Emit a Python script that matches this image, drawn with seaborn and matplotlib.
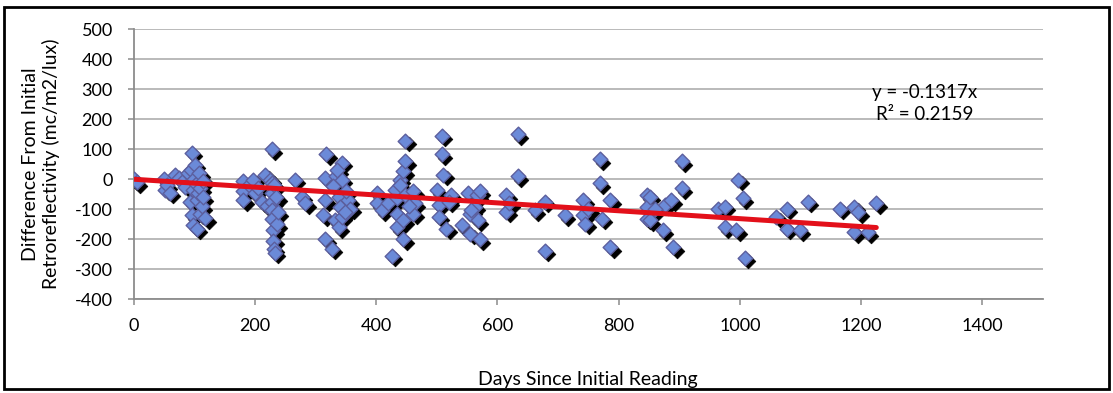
import matplotlib
matplotlib.use("Agg")
import matplotlib.pyplot as plt
from matplotlib.transforms import offset_copy
from matplotlib.patches import Rectangle
import seaborn as sns
import pandas as pd

# ---- data ----
days = [0, 5, 50, 52, 55, 60, 68, 75, 80, 85, 90, 93, 95, 96, 96, 98, 98, 100, 101, 103,
        104, 104, 106, 108, 109, 110, 112, 114, 115, 118,
        181, 181, 181, 190, 197, 200, 205, 211, 217, 220, 225, 228, 229, 229, 229, 229, 229,
        230, 230, 231, 232, 233, 235, 236, 238, 266, 277, 283,
        318, 316, 316, 313, 316, 327, 334, 343, 329, 338, 354, 340, 332, 338, 343, 357, 343,
        336, 350, 348,
        401, 401, 409, 420, 434, 431, 439, 445, 448, 448, 434, 434, 445, 445, 426, 448, 461,
        464, 461, 440, 455,
        508, 508, 511, 500, 503, 503, 516, 524, 541, 552, 555, 555, 568, 563, 520, 566, 571,
        557, 568, 571,
        634, 634, 615, 615, 620, 662, 678, 678,
        711, 742, 742, 745, 769, 769, 786, 772, 786, 750,
        846, 846, 846, 851, 851, 876, 887, 873, 890, 904, 904, 860,
        964, 975, 975, 994, 997, 1005, 1008,
        1060, 1077, 1077, 1099, 1112, 1165, 1189, 1225, 1189, 1211, 1195]
diff = [0, -10, 0, -35, -20, -45, 15, 5, -10, -25, 20, -75, 30, 89, -120, -36, -154, 0, 49, -15,
        -70, -165, -45, 20, -115, -30, -90, -60, -5, -130,
        -7, -41, -70, -20, -2, -47, -30, -75, 15, -90, -2, 100, -13, -47, -75, -103, -132,
        -171, -205, -233, -20, -245, -60, -150, -110, -2, -58, -81,
        83, 4, -70, -120, -201, -233, 10, -2, -24, -58, -70, -92, -137, -160, -126, -98, 55,
        30, -40, -110,
        -47, -81, -103, -81, -64, -36, -2, 26, 60, 128, -115, -160, -137, -200, -256, -53, -41,
        -81, -115, -20, -90,
        145, 83, 15, -36, -86, -126, -165, -53, -154, -47, -115, -182, -53, -92, -75, -53, -41,
        -103, -137, -200,
        151, 10, -53, -109, -80, -103, -75, -239,
        -120, -70, -120, -148, 66, -13, -70, -132, -228, -100,
        -53, -92, -132, -58, -137, -86, -70, -171, -228, 60, -30, -100,
        -98, -92, -160, -171, -2, -64, -262,
        -126, -98, -165, -171, -75, -98, -92, -81, -177, -177, -110]

slope = -0.1317
r_squared = 0.2159

x_ticks = [0, 200, 400, 600, 800, 1000, 1200, 1400]
y_ticks = [-400, -300, -200, -100, 0, 100, 200, 300, 400, 500]
x_title = "Days Since Initial Reading"
y_title = "Difference From Initial\nRetroreflectivity (mc/m2/lux)"

df = pd.DataFrame({"days": days, "diff": diff})
trend = pd.DataFrame({"days": [0, max(days)]})
trend["fit"] = slope * trend["days"]

# ---- styling ----
sns.set_theme(style="white")
plt.rcParams["font.family"] = ["Lato", "DejaVu Sans"]
plt.rcParams["axes.unicode_minus"] = False

W, H = 1113, 393
fig = plt.figure(figsize=(W / 100, H / 100), dpi=100)
fig.patch.set_facecolor("white")
x0, x1, ytop, ybot = 133.6, 1043, 29.5, 299
ax = fig.add_axes([x0 / W, 1 - ybot / H, (x1 - x0) / W, (ybot - ytop) / H])

shadow_tr = offset_copy(ax.transData, fig=fig, x=3.5, y=-3.5, units="dots")
sns.scatterplot(data=df, x="days", y="diff", ax=ax, marker="D", s=56,
                color="black", edgecolor="black", linewidth=0.5,
                transform=shadow_tr, zorder=3, legend=False)
sns.scatterplot(data=df, x="days", y="diff", ax=ax, marker="D", s=56,
                color="#6b8ad8", edgecolor="#5c5f9e", linewidth=1.0,
                zorder=4, legend=False)
sns.lineplot(data=trend, x="days", y="fit", ax=ax, color="#e3101a",
             linewidth=3.6, zorder=5, legend=False)

ax.set_xlim(0, 1500)
ax.set_ylim(-400, 500)
ax.set_xticks(x_ticks)
ax.set_yticks(y_ticks)
ax.set_xticklabels([str(t) for t in x_ticks])
ax.set_yticklabels([str(t) for t in y_ticks])

ax.yaxis.grid(True, color="#b4b4b4", linewidth=1.3)
ax.xaxis.grid(False)
ax.set_axisbelow(True)
for s in ["top", "right"]:
    ax.spines[s].set_visible(False)
for s in ["left", "bottom"]:
    ax.spines[s].set_color("#8c8c8c")
    ax.spines[s].set_linewidth(1.3)

ax.tick_params(axis="both", direction="out", length=4, width=1.1, color="#8c8c8c",
               labelsize=13, labelcolor="black", left=True, bottom=True)
ax.tick_params(axis="x", pad=10)
ax.tick_params(axis="y", pad=11)

ax.set_xlabel(x_title, fontsize=14, color="black", va="center")
ax.xaxis.set_label_coords(0.5, (ybot - 379) / (ybot - ytop))
ax.set_ylabel(y_title, fontsize=14, color="black", va="center", linespacing=1.25)
ax.yaxis.set_label_coords((41 - x0) / (x1 - x0), 0.5)

ax.text(1305, 252, f"y = {slope}x\nR\u00b2 = {r_squared}", ha="center", va="center",
        multialignment="center", fontsize=13.5, color="black", linespacing=1.35, zorder=6)

fig.patches.append(Rectangle((4 / W, 1 - 389 / H), (1109 - 4) / W, (389 - 7) / H,
                             transform=fig.transFigure, fill=False, edgecolor="black",
                             linewidth=2.0, zorder=10))

fig.savefig("out.png", dpi=100, facecolor="white")
